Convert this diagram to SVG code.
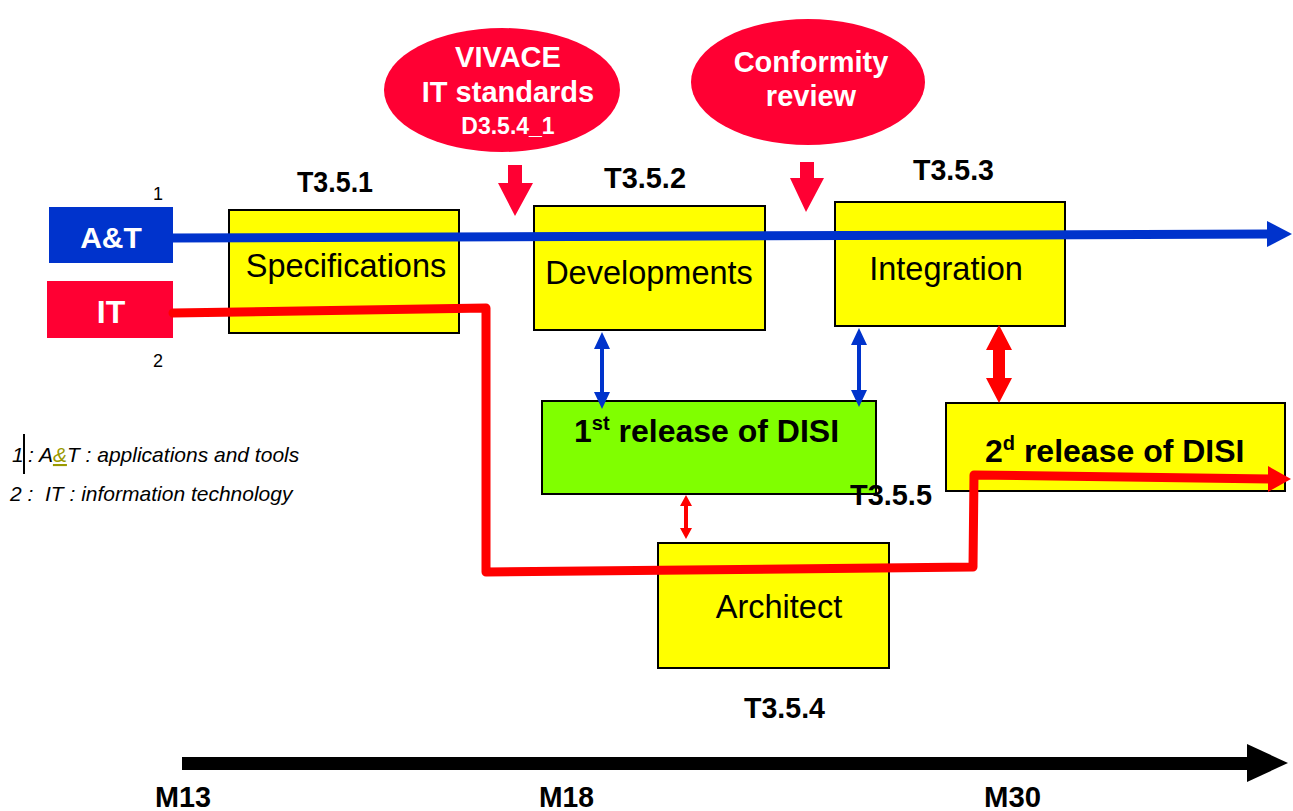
<svg xmlns="http://www.w3.org/2000/svg" width="1293" height="811" viewBox="0 0 1293 811">
<style>
.box{fill:#ffff00;stroke:#000;stroke-width:2}
.lbl{font-family:"Liberation Sans",Arial,sans-serif;font-size:32.5px;fill:#000;text-anchor:middle}
.tl{font-family:"Liberation Sans",Arial,sans-serif;font-size:30px;font-weight:bold;fill:#000}
.wt{font-family:"Liberation Sans",Arial,sans-serif;font-weight:bold;fill:#fff;text-anchor:middle}
.bt{font-family:"Liberation Sans",Arial,sans-serif;font-weight:bold;fill:#000}
.lg{font-family:"Liberation Sans",Arial,sans-serif;font-size:21px;font-style:italic;fill:#000}
.num{font-family:"Liberation Sans",Arial,sans-serif;font-size:18px;fill:#000;text-anchor:middle}
</style>
<rect width="1293" height="811" fill="#fff"/>

<g id="at-box">
<rect x="49" y="207" width="124" height="56" fill="#0033cc"/>
<text class="wt" x="111" y="248" font-size="30">A&amp;T</text>
<text class="num" x="158" y="200">1</text>
</g>
<g id="it-box">
<rect x="47" y="281" width="126" height="57" fill="#ff0033"/>
<text class="wt" x="111" y="323" font-size="32">IT</text>
<text class="num" x="158" y="367">2</text>
</g>

<g id="legend">
<text class="lg" x="12" y="462">1</text>
<line x1="24" y1="434" x2="24" y2="474" stroke="#000" stroke-width="2"/>
<text class="lg" x="28" y="462">: A<tspan fill="#999900" text-decoration="underline">&amp;</tspan>T : applications and tools</text>
<text class="lg" x="10" y="501" xml:space="preserve">2 :  IT : information technology</text>
</g>

<g id="specifications">
<rect class="box" x="229" y="210" width="230" height="123"/>
<text class="lbl" x="346" y="277">Specifications</text>
<text class="tl" x="297" y="192" textLength="76" lengthAdjust="spacingAndGlyphs">T3.5.1</text>
</g>
<g id="developments">
<rect class="box" x="534" y="206" width="231" height="124"/>
<text class="lbl" x="649" y="284">Developments</text>
<text class="tl" x="604" y="188" textLength="82" lengthAdjust="spacingAndGlyphs">T3.5.2</text>
</g>
<g id="integration">
<rect class="box" x="835" y="202" width="230" height="124"/>
<text class="lbl" x="946" y="280">Integration</text>
<text class="tl" x="913" y="180" textLength="81" lengthAdjust="spacingAndGlyphs">T3.5.3</text>
</g>
<g id="release1">
<rect x="542" y="401" width="334" height="93" fill="#80ff00" stroke="#000" stroke-width="2"/>
<text class="bt" x="574" y="442" font-size="32">1<tspan font-size="20" dy="-12">st</tspan><tspan dy="12"> release of DISI</tspan></text>
<text class="tl" x="850" y="505" textLength="82" lengthAdjust="spacingAndGlyphs">T3.5.5</text>
</g>
<g id="release2">
<rect class="box" x="946" y="403" width="339" height="88"/>
<text class="bt" x="985" y="462" font-size="32">2<tspan font-size="20" dy="-12">d</tspan><tspan dy="12"> release of DISI</tspan></text>
</g>
<g id="architect">
<rect class="box" x="658" y="543" width="231" height="125"/>
<text class="lbl" x="779" y="618">Architect</text>
<text class="tl" x="744" y="718" textLength="81" lengthAdjust="spacingAndGlyphs">T3.5.4</text>
</g>

<g id="vivace">
<ellipse cx="502" cy="90" rx="118" ry="62" fill="#ff0033"/>
<text class="wt" x="508" y="67" font-size="29">VIVACE</text>
<text class="wt" x="508" y="102" font-size="29">IT standards</text>
<text class="wt" x="508" y="134" font-size="23">D3.5.4_1</text>
</g>
<g id="conformity">
<ellipse cx="808" cy="82" rx="117" ry="63" fill="#ff0033"/>
<text class="wt" x="811" y="72" font-size="29">Conformity</text>
<text class="wt" x="811" y="106" font-size="29">review</text>
</g>

<g id="connectors">
<line x1="173" y1="238" x2="1268" y2="234" stroke="#0033cc" stroke-width="9"/>
<polygon points="1267,221 1292,234 1267,247" fill="#0033cc"/>
<path d="M173,313 L486,308 L486,572 L973,567 L974,475 L1270,479" fill="none" stroke="#ff0000" stroke-width="9" stroke-linejoin="round" stroke-linecap="round"/>
<polygon points="1268,466 1291,479 1268,492" fill="#ff0000"/>
<polygon points="508,165 522,165 522,183 533,183 515,216 498,183 508,183" fill="#ff0033"/>
<polygon points="800,162 814,162 814,178 824,178 806,212 790,178 800,178" fill="#ff0033"/>
<polygon points="602,332 610,349 604,349 604,392 610,392 602,409 594,392 600,392 600,349 594,349" fill="#0033cc"/>
<polygon points="859,328 867,345 861,345 861,390 867,390 859,407 851,390 857,390 857,345 851,345" fill="#0033cc"/>
<polygon points="999,325 1012,350 1005,350 1005,378 1012,378 999,403 986,378 993,378 993,350 986,350" fill="#ff0000"/>
<polygon points="686,495 692,506 688,506 688,528 692,528 686,539 680,528 684,528 684,506 680,506" fill="#ff0000"/>
<rect x="182" y="757" width="1068" height="13" fill="#000"/>
<polygon points="1247,744 1288,763 1247,782" fill="#000"/>
</g>

<g id="axis-labels">
<text class="tl" x="155" y="807" textLength="56" lengthAdjust="spacingAndGlyphs">M13</text>
<text class="tl" x="539" y="807" textLength="55" lengthAdjust="spacingAndGlyphs">M18</text>
<text class="tl" x="984" y="807" textLength="57" lengthAdjust="spacingAndGlyphs">M30</text>
</g>
</svg>
